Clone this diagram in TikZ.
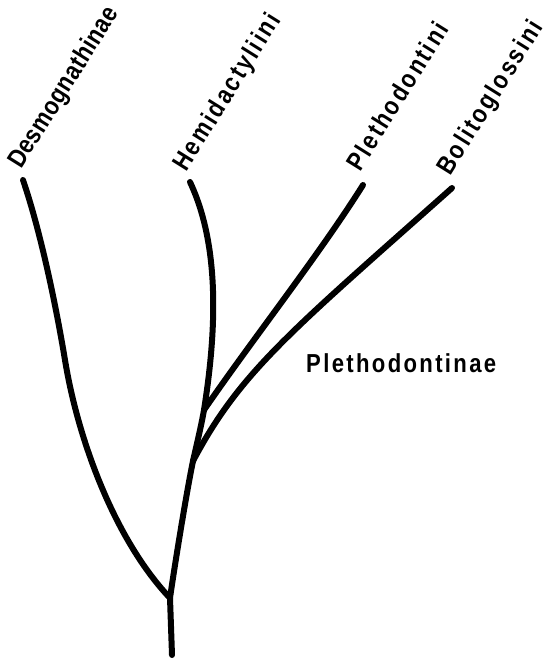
\documentclass[tikz,border=0pt]{standalone}
\usepackage{fontspec}
% lettering-guide style sans: slightly condensed, widely tracked
\newfontfamily\taxonfont[FakeStretch=0.85,LetterSpace=9]{Liberation Sans Bold}
\begin{document}
\begin{tikzpicture}[x=1pt,y=-1pt,
  branch/.style={line width=6pt,line cap=round,line join=round},
  taxon/.style={font=\taxonfont\fontsize{26}{30}\selectfont,inner sep=0pt,
                anchor=base west,rotate=58},
  grouplabel/.style={font=\taxonfont\fontsize{26}{30}\selectfont,inner sep=0pt,
                anchor=base west}]
\useasboundingbox (0,0) rectangle (549,662);

% branch points and tips
\coordinate (root) at (172,655);
\coordinate (j0)   at (170,598);
\coordinate (j1)   at (193,461);
\coordinate (j2)   at (204,410);
\coordinate (dmid) at (65,360);
\coordinate (tdes) at (23,180);
\coordinate (them) at (190,182);
\coordinate (tple) at (363,185);
\coordinate (tbol) at (452,188);

% stem and trunk
\draw[branch] (root) -- (j0);
\draw[branch] (j0) .. controls (174,570) and (186,495) .. (j1);
\draw[branch] (j1) .. controls (197,443) and (201,427) .. (j2);
\draw[branch] (j2) .. controls (215,340) and (222,250) .. (them);

% Desmognathinae
\draw[branch] (tdes) .. controls (40,230) and (55,300) .. (dmid)
              .. controls (78,440) and (115,540) .. (j0);

% Plethodontini and Bolitoglossini
\draw[branch] (j2) .. controls (252,340) and (319,255) .. (tple);
\draw[branch] (j1) .. controls (240,372) and (290,332) .. (tbol);

% tip labels
\node[taxon] (ldes) at (21,170) {\addfontfeatures{LetterSpace=2}Desmognathinae};
\node[taxon] (lhem) at (186,173) {Hemidactyliini};
\node[taxon] (lple) at (360,173) {Plethodontini};
\node[taxon] (lbol) at (450,177) {Bolitoglossini};

% group label
\node[grouplabel] (lgrp) at (306,372) {Plethodontinae};
\end{tikzpicture}
\end{document}
